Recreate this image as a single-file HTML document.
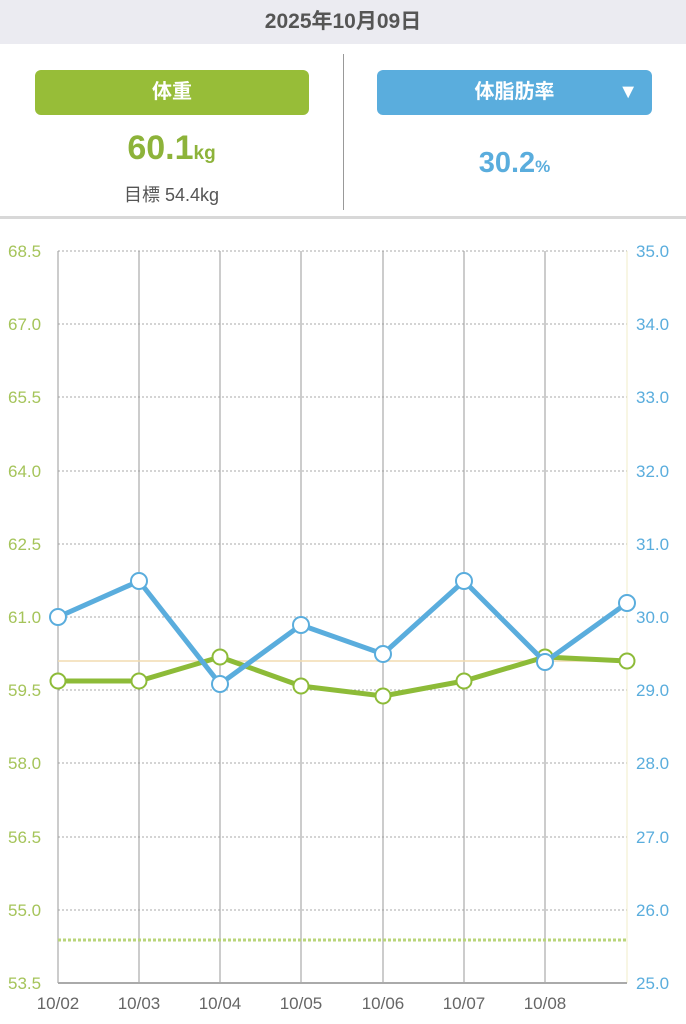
<!DOCTYPE html>
<html><head><meta charset="utf-8"><style>
body{margin:0;width:686px;height:1024px;background:#fff;font-family:"Liberation Sans","Noto Sans CJK JP",sans-serif;overflow:hidden;position:relative}
.hdr{position:absolute;left:0;top:0;width:686px;height:44px;background:#ebebf1;text-align:center;line-height:44px;font-size:21px;color:#555;font-weight:bold}
.btn{position:absolute;top:70px;height:45px;border-radius:6px;color:#fff;text-align:center;line-height:45px;font-size:20px;font-weight:bold}
</style></head><body>
<div class="hdr">2025年10月09日</div>
<div class="btn" style="left:35px;width:274px;background:#97bd38">体重</div>
<div class="btn" style="left:377px;width:275px;background:#5aaddd">体脂肪率<span style="position:absolute;right:14px;top:0;font-size:20px">▼</span></div>
<div style="position:absolute;left:343px;top:54px;width:1px;height:156px;background:#999"></div>
<div style="position:absolute;left:0;top:216px;width:686px;height:3px;background:#d8d8d8"></div>
<div style="position:absolute;left:0;width:343px;top:129px;text-align:center;color:#8db33a;font-weight:bold;font-size:34px">60.1<span style="font-size:19px">kg</span></div>
<div style="position:absolute;left:0;width:343px;top:181px;text-align:center;color:#555;font-size:18px">目標 54.4kg</div>
<div style="position:absolute;left:343px;width:343px;top:147px;text-align:center;color:#5aaddd;font-weight:bold;font-size:29px">30.2<span style="font-size:17px">%</span></div>
<svg style="position:absolute;left:0;top:0" width="686" height="1024">
<g stroke="#aaa" stroke-width="1" stroke-dasharray="2,2">
<line x1="58" x2="627" y1="251" y2="251"/><line x1="58" x2="627" y1="324" y2="324"/><line x1="58" x2="627" y1="397" y2="397"/><line x1="58" x2="627" y1="471" y2="471"/><line x1="58" x2="627" y1="544" y2="544"/><line x1="58" x2="627" y1="617" y2="617"/><line x1="58" x2="627" y1="690" y2="690"/><line x1="58" x2="627" y1="763" y2="763"/><line x1="58" x2="627" y1="837" y2="837"/><line x1="58" x2="627" y1="910" y2="910"/>
</g>
<g stroke="#999" stroke-width="1"><line x1="58" x2="58" y1="251" y2="983"/><line x1="139" x2="139" y1="251" y2="983"/><line x1="220" x2="220" y1="251" y2="983"/><line x1="301" x2="301" y1="251" y2="983"/><line x1="383" x2="383" y1="251" y2="983"/><line x1="464" x2="464" y1="251" y2="983"/><line x1="545" x2="545" y1="251" y2="983"/></g>
<line x1="627" x2="627" y1="251" y2="983" stroke="#f0ecc8"/>
<line x1="58" x2="627" y1="983" y2="983" stroke="#aaa" stroke-width="2"/>
<line x1="58" x2="627" y1="940" y2="940" stroke="#b9d57a" stroke-width="3" stroke-dasharray="3,2"/>
<line x1="58" x2="627" y1="661" y2="661" stroke="#f2dcb0" stroke-width="1.5"/>
<polyline fill="none" stroke="#8dbb38" stroke-width="5" stroke-linejoin="round" points="58,681 139,681 220,657 301,686 383,696 464,681 545,657 627,661"/>
<g fill="#fff" stroke="#8dbb38" stroke-width="2"><circle cx="58" cy="681" r="7.5"/><circle cx="139" cy="681" r="7.5"/><circle cx="220" cy="657" r="7.5"/><circle cx="301" cy="686" r="7.5"/><circle cx="383" cy="696" r="7.5"/><circle cx="464" cy="681" r="7.5"/><circle cx="545" cy="657" r="7.5"/><circle cx="627" cy="661" r="7.5"/></g>
<polyline fill="none" stroke="#5aaddd" stroke-width="5" stroke-linejoin="round" points="58,617 139,581 220,684 301,625 383,654 464,581 545,662 627,603"/>
<g fill="#fff" stroke="#5aaddd" stroke-width="2"><circle cx="58" cy="617" r="8"/><circle cx="139" cy="581" r="8"/><circle cx="220" cy="684" r="8"/><circle cx="301" cy="625" r="8"/><circle cx="383" cy="654" r="8"/><circle cx="464" cy="581" r="8"/><circle cx="545" cy="662" r="8"/><circle cx="627" cy="603" r="8"/></g>
<g font-size="17" fill="#a5c45a" font-family="Liberation Sans,sans-serif"><text x="8" y="257">68.5</text><text x="8" y="330">67.0</text><text x="8" y="403">65.5</text><text x="8" y="477">64.0</text><text x="8" y="550">62.5</text><text x="8" y="623">61.0</text><text x="8" y="696">59.5</text><text x="8" y="769">58.0</text><text x="8" y="843">56.5</text><text x="8" y="916">55.0</text><text x="8" y="989">53.5</text></g>
<g font-size="17" fill="#5aaddd" font-family="Liberation Sans,sans-serif"><text x="636" y="257">35.0</text><text x="636" y="330">34.0</text><text x="636" y="403">33.0</text><text x="636" y="477">32.0</text><text x="636" y="550">31.0</text><text x="636" y="623">30.0</text><text x="636" y="696">29.0</text><text x="636" y="769">28.0</text><text x="636" y="843">27.0</text><text x="636" y="916">26.0</text><text x="636" y="989">25.0</text></g>
<g font-size="17" fill="#666" text-anchor="middle" font-family="Liberation Sans,sans-serif"><text x="58" y="1009">10/02</text><text x="139" y="1009">10/03</text><text x="220" y="1009">10/04</text><text x="301" y="1009">10/05</text><text x="383" y="1009">10/06</text><text x="464" y="1009">10/07</text><text x="545" y="1009">10/08</text></g>
</svg>
</body></html>
